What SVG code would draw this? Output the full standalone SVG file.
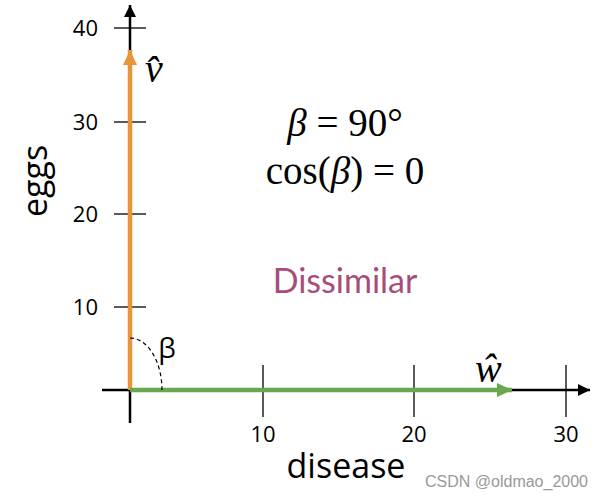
<svg xmlns="http://www.w3.org/2000/svg" width="604" height="498" viewBox="0 0 604 498">
<style>
.ax{stroke:#000;stroke-width:2.5;fill:none}
.tk{stroke:#000;stroke-width:1.3}
.tl{font-family:"Open Sans","Liberation Sans",sans-serif;font-size:22px;fill:#000}
.lab{font-family:"Open Sans",Lato,sans-serif;font-size:34px;fill:#000}
.math{font-family:"Liberation Serif","DejaVu Serif",serif;font-size:39px;fill:#000}
</style>
<defs>
<marker id="ah" viewBox="0 0 12 12" refX="12" refY="6" markerWidth="12" markerHeight="12" markerUnits="userSpaceOnUse" orient="auto"><path d="M0,0L12,6L0,12z" fill="#000"/></marker>
<marker id="ao" viewBox="0 0 15 14" refX="15" refY="7" markerWidth="15" markerHeight="14" markerUnits="userSpaceOnUse" orient="auto"><path d="M0,0L15,7L0,14z" fill="#E8953A"/></marker>
<marker id="ag" viewBox="0 0 15 14" refX="15" refY="7" markerWidth="15" markerHeight="14" markerUnits="userSpaceOnUse" orient="auto"><path d="M0,0L15,7L0,14z" fill="#6AA84F"/></marker>
</defs>
<rect width="604" height="498" fill="#fff"/>
<g id="axes">
<line class="ax" x1="130" y1="423" x2="130" y2="5" marker-end="url(#ah)"/>
<line class="ax" x1="102" y1="390" x2="590" y2="390" marker-end="url(#ah)"/>
<line class="tk" x1="114" y1="28" x2="146" y2="28"/>
<line class="tk" x1="114" y1="122" x2="146" y2="122"/>
<line class="tk" x1="114" y1="214" x2="146" y2="214"/>
<line class="tk" x1="114" y1="307" x2="146" y2="307"/>
<line class="tk" x1="263" y1="365" x2="263" y2="417"/>
<line class="tk" x1="414" y1="365" x2="414" y2="417"/>
<line class="tk" x1="566" y1="365" x2="566" y2="417"/>
<text class="tl" x="98" y="36" text-anchor="end">40</text>
<text class="tl" x="98" y="130" text-anchor="end">30</text>
<text class="tl" x="98" y="222" text-anchor="end">20</text>
<text class="tl" x="98" y="315" text-anchor="end">10</text>
<text class="tl" x="263" y="442" text-anchor="middle">10</text>
<text class="tl" x="414" y="442" text-anchor="middle">20</text>
<text class="tl" x="566" y="442" text-anchor="middle">30</text>
<text class="lab" x="346" y="478" text-anchor="middle">disease</text>
<text class="lab" transform="translate(47,181) rotate(-90)" text-anchor="middle">eggs</text>
</g>
<g id="connectors">
<line x1="130" y1="390" x2="130" y2="50" stroke="#E8953A" stroke-width="4.5" marker-end="url(#ao)"/>
<line x1="130" y1="390" x2="512" y2="390" stroke="#6AA84F" stroke-width="4.5" marker-end="url(#ag)"/>
<path d="M130,338 A32,52 0 0 1 162,390" fill="none" stroke="#000" stroke-width="1.2" stroke-dasharray="4,3"/>
</g>
<g id="labels">
<text x="145" y="82" font-family="'Liberation Serif',serif" font-style="italic" font-size="40">v̂</text>
<text x="475" y="382" font-family="'Liberation Serif',serif" font-style="italic" font-size="40">ŵ</text>
<text x="167" y="358" text-anchor="middle" font-family="'Open Sans','Liberation Sans',sans-serif" font-size="28">β</text>
<text class="math" x="345" y="136" text-anchor="middle"><tspan font-style="italic">β</tspan> = 90°</text>
<text class="math" x="345" y="184" text-anchor="middle">cos(<tspan font-style="italic">β</tspan>) = 0</text>
<text x="345" y="293" text-anchor="middle" font-family="Lato,'Open Sans',sans-serif" font-size="34" fill="#A64D79">Dissimilar</text>
<text x="588" y="487" text-anchor="end" font-family="'Liberation Sans',sans-serif" font-size="16" fill="#999">CSDN @oldmao_2000</text>
</g>
</svg>
